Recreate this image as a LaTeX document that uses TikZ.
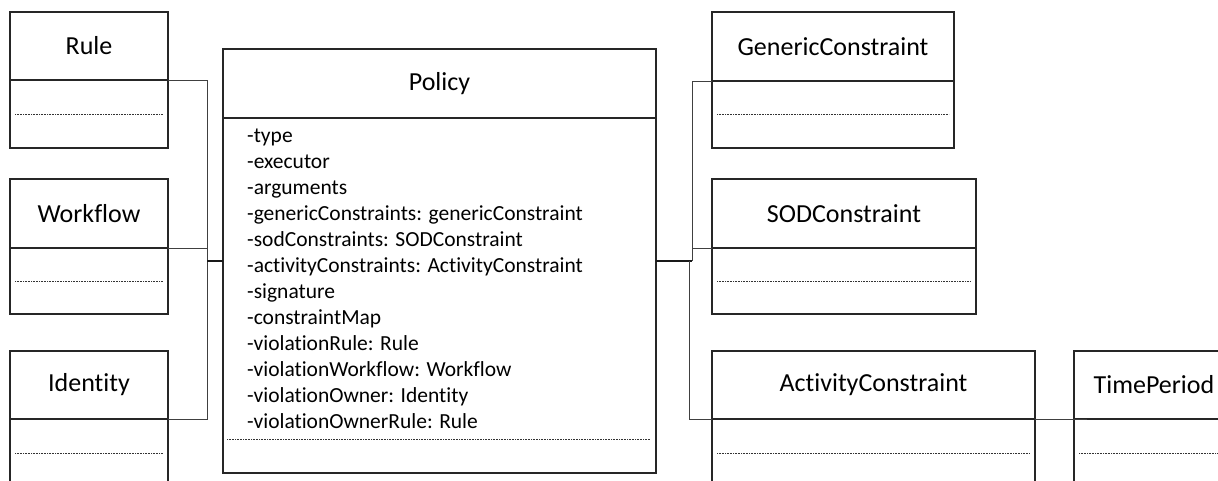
\documentclass[tikz,border=0pt]{standalone}
\usepackage{fontspec}
\setmainfont[Ligatures={NoCommon}]{Carlito}
\usetikzlibrary{calc}
\tikzset{
  clshead/.style={draw=black!85, line width=1.1pt, rectangle, inner sep=0pt, outer sep=0pt,
    anchor=north west, font=\fontsize{26}{30}\selectfont},
  clsbody/.style={draw=black!85, line width=1.1pt, rectangle, inner sep=0pt, outer sep=0pt,
    anchor=north west},
  conn/.style={draw=black!75, line width=1pt},
  connbold/.style={draw=black!90, line width=1.8pt},
  dots/.style={draw=black!80, line width=0.6pt, dash pattern=on 1pt off 0.6pt},
  attr/.style={anchor=base west, align=left, inner sep=0pt, font=\fontsize{21.5}{26}\selectfont}
}
\begin{document}
\begin{tikzpicture}[x=1pt, y=-1pt]
\clip (0,0) rectangle (1218,480);
\fill[white] (0,0) rectangle (1218,480);

% Left classes
\node[clshead, minimum width=158pt, minimum height=68pt] (rulehead) at (10,12) {Rule};
\node[clsbody, minimum width=158pt, minimum height=68pt] (rulebody) at (10,80) {};
\node[clshead, minimum width=158pt, minimum height=69pt] (wfhead) at (10,179) {Workflow};
\node[clsbody, minimum width=158pt, minimum height=66pt] (wfbody) at (10,248) {};
\node[clshead, minimum width=158pt, minimum height=68pt] (idhead) at (10,351) {Identity};
\node[clsbody, minimum width=158pt, minimum height=68pt] (idbody) at (10,419) {};

% Policy
\node[clshead, minimum width=433pt, minimum height=69pt] (phead) at (223,49) {Policy};
\node[clsbody, minimum width=433pt, minimum height=355pt] (pbody) at (223,118) {};
\node[attr] (pattr) at (247,428) {-type\\-executor\\-arguments\\-genericConstraints: genericConstraint\\-sodConstraints: SODConstraint\\-activityConstraints: ActivityConstraint\\-signature\\-constraintMap\\-violationRule: Rule\\-violationWorkflow: Workflow\\-violationOwner: Identity\\-violationOwnerRule: Rule};

% Right classes
\node[clshead, minimum width=242pt, minimum height=69pt] (genhead) at (712,12) {GenericConstraint};
\node[clsbody, minimum width=242pt, minimum height=67pt] (genbody) at (712,81) {};
\node[clshead, minimum width=264pt, minimum height=69pt] (sodhead) at (712,179) {SODConstraint};
\node[clsbody, minimum width=264pt, minimum height=66pt] (sodbody) at (712,248) {};
\node[clshead, minimum width=323pt, minimum height=68pt] (acthead) at (712,351) {ActivityConstraint};
\node[clsbody, minimum width=323pt, minimum height=68pt] (actbody) at (712,419) {};
\node[clshead, minimum width=160pt, minimum height=68pt] (tphead) at (1074,351) {TimePeriod};
\node[clsbody, minimum width=160pt, minimum height=68pt] (tpbody) at (1074,419) {};

% dotted separators
\foreach \b in {rulebody,wfbody,idbody,genbody,sodbody,actbody,tpbody}{
  \draw[dots] ([xshift=5pt]\b.west) -- ([xshift=-5pt]\b.east);
}
\draw[dots] ([xshift=4pt,yshift=34pt]pbody.south west) -- ([xshift=-6pt,yshift=34pt]pbody.south east);

% connectors
\coordinate (pmidL) at ($(phead.north west)!0.5!(pbody.south west)$);
\coordinate (pmidR) at ($(phead.north east)!0.5!(pbody.south east)$);
\coordinate (ljoin) at ($(pmidL)+(-16,0)$);
\coordinate (rjoin) at ($(pmidR)+(36,0)$);
\coordinate (rjoin2) at ($(pmidR)+(33,0)$);

\draw[conn] (rulehead.south east) -- ++(39,0) |- (idhead.south east);
\draw[conn] (wfhead.south east) -- ++(39,0);
\draw[connbold] (ljoin) -- (pmidL);

\draw[connbold] (pmidR) -- (rjoin);
\draw[conn] (rjoin) |- (genhead.south west);
\draw[conn] (rjoin2) |- (acthead.south west);
\draw[conn] (sodhead.south west) -- ++(-20,0);

\draw[conn] (acthead.south east) -- ([xshift=13pt]tphead.south west);
\end{tikzpicture}
\end{document}
